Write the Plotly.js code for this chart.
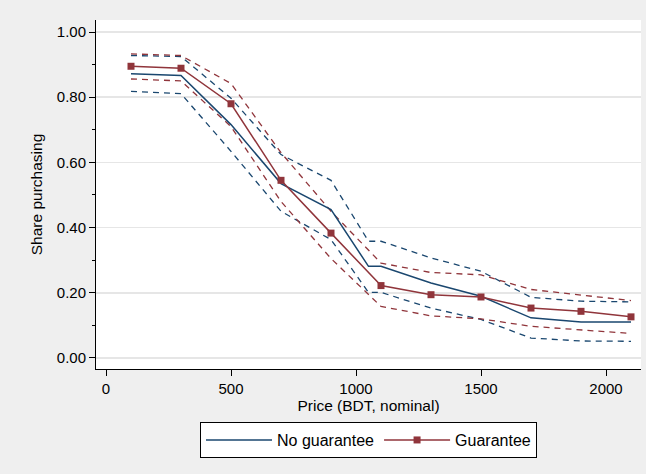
<!DOCTYPE html>
<html>
<head>
<meta charset="utf-8">
<script src="https://cdn.plot.ly/plotly-3.0.1.min.js"></script>
<style>html,body{margin:0;padding:0;background:#efefef;}#chart{width:646px;height:474px;}</style>
</head>
<body>
<div id="chart"></div>
<script>
// Prices (BDT, nominal)
const priceNoG = [100, 300, 500, 700, 900, 1050, 1100, 1300, 1500, 1700, 1900, 2100];
const priceG   = [100, 300, 500, 700, 900, 1100, 1300, 1500, 1700, 1900, 2100];

// No guarantee: estimate and 95% CI
const noGuarantee      = [0.872, 0.867, 0.716, 0.535, 0.455, 0.281, 0.281, 0.230, 0.189, 0.123, 0.110, 0.110];
const noGuaranteeUpper = [0.928, 0.925, 0.797, 0.624, 0.545, 0.358, 0.358, 0.307, 0.266, 0.186, 0.174, 0.172];
const noGuaranteeLower = [0.818, 0.811, 0.634, 0.450, 0.363, 0.201, 0.201, 0.153, 0.118, 0.061, 0.052, 0.051];

// Guarantee: estimate and 95% CI
const guarantee      = [0.895, 0.889, 0.780, 0.545, 0.383, 0.222, 0.194, 0.187, 0.153, 0.143, 0.126];
const guaranteeUpper = [0.933, 0.928, 0.842, 0.630, 0.450, 0.291, 0.262, 0.255, 0.210, 0.194, 0.176];
const guaranteeLower = [0.856, 0.850, 0.710, 0.480, 0.305, 0.158, 0.129, 0.120, 0.097, 0.086, 0.075];

const xTicks = [0, 500, 1000, 1500, 2000];
const yTicks = [0, 0.2, 0.4, 0.6, 0.8, 1.0];

const navy = '#1a476f';
const maroon = '#90353b';

const traces = [
  {x: priceNoG, y: noGuaranteeUpper, mode: 'lines', line: {color: navy, width: 1.3, dash: '6px,5px'}, showlegend: false, hoverinfo: 'skip'},
  {x: priceNoG, y: noGuaranteeLower, mode: 'lines', line: {color: navy, width: 1.3, dash: '6px,5px'}, showlegend: false, hoverinfo: 'skip'},
  {x: priceG, y: guaranteeUpper, mode: 'lines', line: {color: maroon, width: 1.3, dash: '6px,5px'}, showlegend: false, hoverinfo: 'skip'},
  {x: priceG, y: guaranteeLower, mode: 'lines', line: {color: maroon, width: 1.3, dash: '6px,5px'}, showlegend: false, hoverinfo: 'skip'},
  {x: priceNoG, y: noGuarantee, mode: 'lines', name: 'No guarantee', line: {color: navy, width: 1.5}},
  {x: priceG, y: guarantee, mode: 'lines+markers', name: 'Guarantee', line: {color: maroon, width: 1.5},
   marker: {symbol: 'square', size: 7, color: maroon}}
];

const layout = {
  width: 646, height: 474,
  paper_bgcolor: '#efefef',
  plot_bgcolor: '#ffffff',
  font: {family: 'Liberation Sans, Arial, sans-serif', size: 15, color: '#000'},
  margin: {l: 96, r: 5, t: 20, b: 105},
  showlegend: true,
  xaxis: {
    range: [-40, 2140],
    tickvals: xTicks,
    ticktext: xTicks.map(String),
    ticks: 'outside', ticklen: 6, tickcolor: '#000', tickwidth: 1,
    showline: true, linecolor: '#000', linewidth: 1,
    showgrid: false, zeroline: false,
    title: {text: 'Price (BDT, nominal)', font: {size: 15.5}, standoff: 2},
    tickfont: {size: 15}
  },
  yaxis: {
    range: [-0.034, 1.037],
    tickvals: yTicks,
    ticktext: yTicks.map(v => v.toFixed(2)),
    ticks: 'outside', ticklen: 6, tickcolor: '#000', tickwidth: 1,
    showline: true, linecolor: '#000', linewidth: 1,
    showgrid: true, gridcolor: '#e6e6e6', gridwidth: 1.5,
    zeroline: false,
    minor: {dtick: 0.1, tick0: 0, ticks: 'outside', ticklen: 3, tickcolor: '#000', showgrid: false},
    title: {text: 'Share purchasing', font: {size: 15.5}, standoff: 10},
    tickfont: {size: 15}
  },
  legend: {
    orientation: 'h',
    x: 0.5, xanchor: 'center',
    y: -0.152, yanchor: 'top',
    bgcolor: '#ffffff',
    bordercolor: '#000', borderwidth: 1,
    font: {size: 16},
    itemwidth: 66,
    traceorder: 'normal'
  }
};

Plotly.newPlot('chart', traces, layout, {displayModeBar: false, staticPlot: true});
</script>
</body>
</html>
